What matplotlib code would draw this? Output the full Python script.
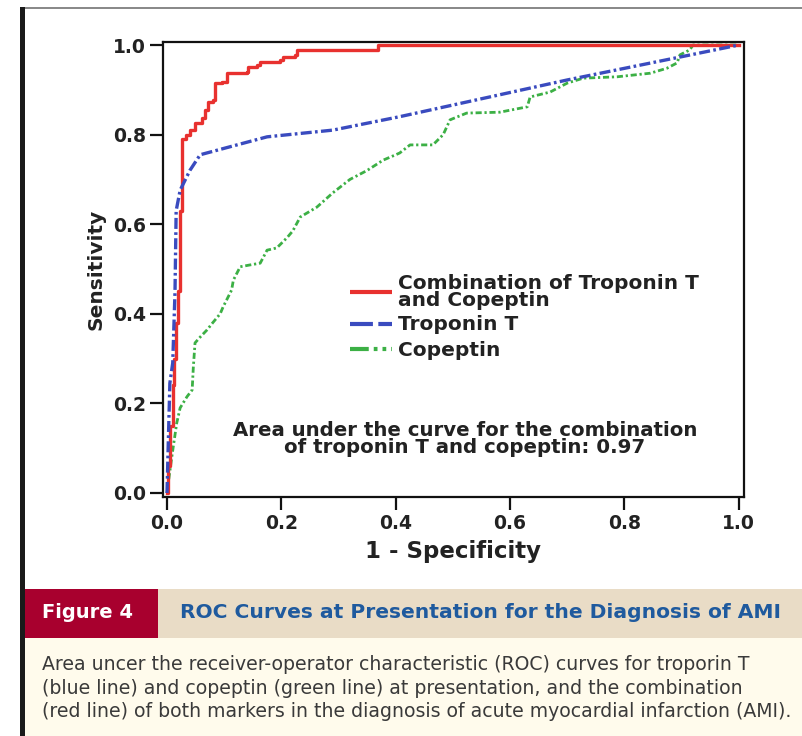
import matplotlib
matplotlib.use("Agg")
import matplotlib.pyplot as plt
from matplotlib.patches import Rectangle
from matplotlib.lines import Line2D

# ---------------- data ----------------
# combination of troponin T and copeptin (step ROC, steps-post corners)
combo_x = [0.0, 0.002, 0.006, 0.010, 0.013, 0.016, 0.020, 0.022, 0.027, 0.034, 0.040, 0.049,
           0.061, 0.066, 0.072, 0.080, 0.084, 0.096, 0.105, 0.140, 0.142, 0.157, 0.163,
           0.198, 0.203, 0.224, 0.227, 0.369, 1.0]
combo_y = [0.0, 0.06, 0.15, 0.24, 0.30, 0.38, 0.45, 0.63, 0.79, 0.80, 0.81, 0.825,
           0.837, 0.855, 0.872, 0.877, 0.915, 0.917, 0.937, 0.940, 0.951, 0.955, 0.962,
           0.967, 0.973, 0.978, 0.988, 1.0, 1.0]

# troponin T
trop_x = [0.0, 0.002, 0.005, 0.010, 0.014, 0.016, 0.023, 0.040, 0.058, 0.175, 0.290, 0.407,
          0.700, 0.885, 1.0]
trop_y = [0.0, 0.10, 0.245, 0.29, 0.45, 0.63, 0.676, 0.72, 0.755, 0.795, 0.81, 0.84,
          0.922, 0.970, 1.0]

# copeptin
cope_x = [0.0, 0.003, 0.010, 0.017, 0.023, 0.035, 0.044, 0.046, 0.049, 0.058, 0.070, 0.080,
          0.093, 0.098, 0.113, 0.116, 0.128, 0.145, 0.163, 0.175, 0.192, 0.210, 0.220, 0.233,
          0.262, 0.290, 0.320, 0.350, 0.378, 0.400, 0.407, 0.425, 0.465, 0.483, 0.495, 0.524,
          0.582, 0.630, 0.635, 0.670, 0.700, 0.728, 0.787, 0.845, 0.874, 0.892, 0.897, 0.914,
          0.920, 1.0]
cope_y = [0.0, 0.03, 0.095, 0.156, 0.19, 0.215, 0.23, 0.28, 0.335, 0.348, 0.364, 0.38,
          0.40, 0.415, 0.453, 0.475, 0.505, 0.509, 0.513, 0.542, 0.547, 0.57, 0.585, 0.616,
          0.638, 0.67, 0.70, 0.72, 0.743, 0.755, 0.759, 0.777, 0.777, 0.80, 0.833, 0.848,
          0.85, 0.862, 0.884, 0.895, 0.915, 0.926, 0.929, 0.937, 0.948, 0.96, 0.978, 0.989,
          1.0, 1.0]

x_ticks = [0.0, 0.2, 0.4, 0.6, 0.8, 1.0]
y_ticks = [0.0, 0.2, 0.4, 0.6, 0.8, 1.0]
legend_labels = ["Combination of Troponin T\nand Copeptin", "Troponin T", "Copeptin"]

# ---------------- figure ----------------
W, H = 803, 736
fig = plt.figure(figsize=(W / 100, H / 100), dpi=100)
fig.patch.set_facecolor("white")

def px_rect(x0, y0, x1, y1, color, z=0):
    fig.add_artist(Rectangle((x0 / W, 1 - y1 / H), (x1 - x0) / W, (y1 - y0) / H,
                             transform=fig.transFigure, facecolor=color, edgecolor="none",
                             zorder=z))

# frame decorations
px_rect(20, 7, 803, 9, "#8a8a8a")
px_rect(20, 7, 25, 736, "#1a1a1a", z=5)
px_rect(25, 589, 803, 638, "#e9dcc6")
px_rect(25, 589, 158, 638, "#a8002e")
px_rect(25, 638, 803, 736, "#fffbec")

RED = "#e8312f"
BLUE = "#3a4bbf"
GREEN = "#3cb045"
FONT = "DejaVu Sans"
TXT = "#222222"

ax = fig.add_axes([163 / W, 1 - 497 / H, (744 - 163) / W, (497 - 42) / H])
ax.set_facecolor("white")
ax.set_xlim(-0.007, 1.009)
ax.set_ylim(-0.009, 1.0067)

ax.plot(cope_x, cope_y, color=GREEN, lw=2.0, dashes=(2.2, 1.0, 0.8, 1.0), zorder=2)
ax.plot(trop_x, trop_y, color=BLUE, lw=2.4, dashes=(3.3, 1.0, 0.8, 1.0), zorder=3)
ax.plot(combo_x, combo_y, color=RED, lw=2.4, drawstyle="steps-post", zorder=2.5)

for s in ax.spines.values():
    s.set_linewidth(1.6)
    s.set_color("#111111")
ax.set_xticks(x_ticks)
ax.set_yticks(y_ticks)
ax.set_xticklabels([f"{v:.1f}" for v in x_ticks])
ax.set_yticklabels([f"{v:.1f}" for v in y_ticks])
ax.tick_params(direction="out", length=9.5, width=1.6, color="#111111", pad=3,
               labelsize=13.5)
for lab in ax.get_xticklabels() + ax.get_yticklabels():
    lab.set_fontweight("bold")
    lab.set_family(FONT)
    lab.set_color(TXT)

ax.set_xlabel("1 - Specificity", fontsize=16.5, fontweight="bold", family=FONT,
              labelpad=5, color=TXT)
ax.set_ylabel("Sensitivity", fontsize=14.5, fontweight="bold", family=FONT,
              labelpad=5, color=TXT)

# legend (manual)
leg_x0, leg_x1, leg_tx = 350, 392, 398
for (ly, col, dsh) in [(292, RED, None), (324, BLUE, (5.5, 1.3)),
                       (349, GREEN, (4.5, 1.2, 0.9, 1.2, 0.9, 1.2))]:
    ln = Line2D([leg_x0 / W, leg_x1 / W], [1 - ly / H, 1 - ly / H], transform=fig.transFigure,
                color=col, lw=3.0, solid_capstyle="butt", dash_capstyle="butt")
    if dsh:
        ln.set_dashes(dsh)
    fig.add_artist(ln)
for (ty, txt) in [(292, legend_labels[0]), (325, legend_labels[1]), (351, legend_labels[2])]:
    fig.text(leg_tx / W, 1 - ty / H, txt, fontsize=14.5, fontweight="bold", family=FONT,
             va="center", ha="left", color=TXT, linespacing=0.92)

fig.text(465 / W, 1 - 439 / H,
         "Area under the curve for the combination\nof troponin T and copeptin: 0.97",
         fontsize=14.2, fontweight="bold", family=FONT, ha="center", va="center",
         color=TXT, linespacing=0.92)

# caption
fig.text(42 / W, 1 - 612 / H, "Figure 4", fontsize=14, fontweight="bold",
         family=FONT, color="white", ha="left", va="center")
fig.text(180 / W, 1 - 612 / H, "ROC Curves at Presentation for the Diagnosis of AMI",
         fontsize=14.6, fontweight="bold", family=FONT,
         color="#1f5a9e", ha="left", va="center")
caption = ("Area uncer the receiver-operator characteristic (ROC) curves for troporin T\n"
           "(blue line) and copeptin (green line) at presentation, and the combination\n"
           "(red line) of both markers in the diagnosis of acute myocardial infarction (AMI).")
fig.text(42 / W, 1 - 688 / H, caption, fontsize=13.6, family=FONT,
         color="#3a3a3a", ha="left", va="center", linespacing=1.29)

fig.savefig("out.png", dpi=100)
